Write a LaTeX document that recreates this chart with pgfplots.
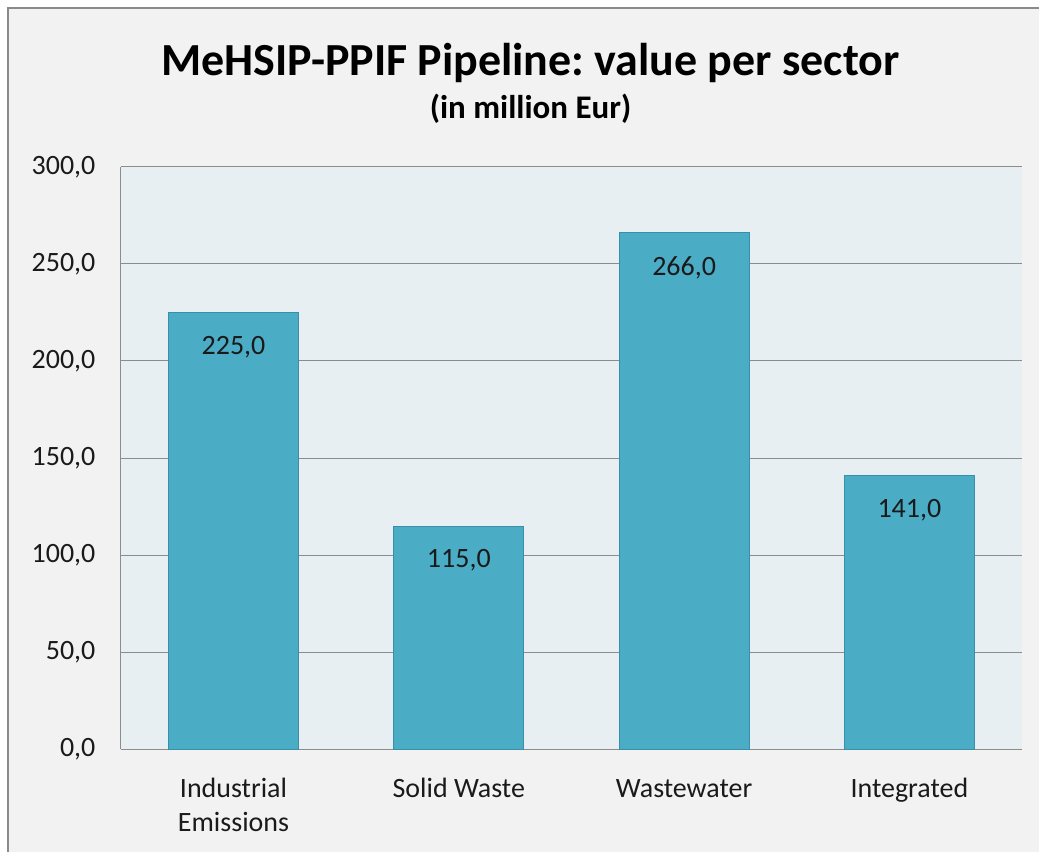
\documentclass[border=0pt]{standalone}
\usepackage{pgfplots}
\pgfplotsset{compat=1.18}
\usepackage{fontspec}
\setmainfont{Carlito}
\frenchspacing
\definecolor{outerbg}{HTML}{F2F2F2}
\definecolor{plotbg}{HTML}{E8EFF3}
\definecolor{barfill}{HTML}{4BACC6}
\definecolor{baredge}{HTML}{3A8FA8}
\definecolor{gridc}{HTML}{8C8C8C}
\definecolor{frame}{HTML}{8A8A8A}
\definecolor{txt}{HTML}{1A1A1A}
\begin{document}
\begin{tikzpicture}
\fill[white] (0pt,0pt) rectangle (1040pt,853pt);
\fill[outerbg] (8pt,0pt) rectangle (1040pt,845pt);
\draw[frame, line width=2pt] (8pt,0pt) -- (8pt,845pt) -- (1040pt,845pt);
\path[use as bounding box] (0pt,0pt) rectangle (1040pt,853pt);
\node[font=\fontsize{46}{54}\selectfont\bfseries, text=black] at (531pt,790pt) {\frenchspacing MeHSIP-PPIF Pipeline: value per sector};
\node[font=\fontsize{33}{40}\selectfont\bfseries, text=black] at (531pt,744pt) {(in million Eur)};
\begin{axis}[
  at={(121pt,103pt)}, anchor=south west,
  scale only axis, width=902pt, height=583pt,
  xmin=-0.5, xmax=3.5, ymin=0, ymax=300,
  axis background/.style={fill=plotbg},
  axis x line*=bottom, axis y line*=left,
  axis line style={gridc, line width=1pt},
  ymajorgrids, grid style={gridc, line width=1pt},
  major tick length=0pt,
  ytick={0,50,100,150,200,250,300},
  xtick={0,1,2,3},
  xticklabels={{\strut Industrial\\Emissions},{\strut Solid Waste},{\strut Wastewater},{\strut Integrated}},
  xticklabel style={font=\fontsize{28}{34}\selectfont, text=txt, align=center, anchor=north, yshift=-21pt},
  yticklabel style={font=\fontsize{28}{34}\selectfont, text=txt, xshift=-22pt,
    /pgf/number format/.cd, fixed, fixed zerofill, precision=1, use comma, assume math mode=true},
  scaled y ticks=false,
  ybar, bar width=130pt,
  nodes near coords={\pgfmathprintnumber[fixed,fixed zerofill,precision=1,use comma,assume math mode=true]{\pgfplotspointmeta}},
  nodes near coords align={below},
  every node near coord/.append style={font=\fontsize{28}{34}\selectfont, text=txt, yshift=-20pt},
]
\addplot[fill=barfill, draw=baredge, line width=1pt] coordinates {(0,225) (1,115) (2,266) (3,141)};
\end{axis}
\end{tikzpicture}
\end{document}
